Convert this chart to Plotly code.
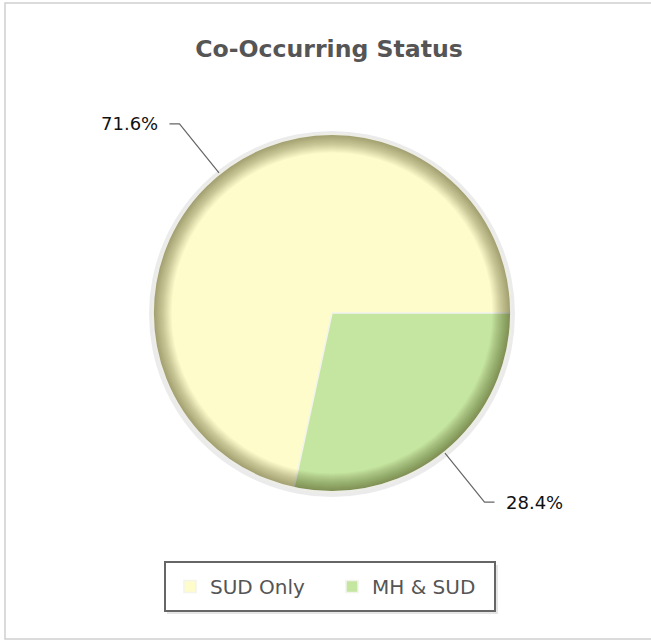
import math
import plotly.graph_objects as go

# ---- data ----
categories = ["SUD Only", "MH & SUD"]
values = [71.6, 28.4]
slice_colors = ["#FFFCCC", "#C5E6A0"]
title_text = "Co-Occurring Status"

# ---- geometry / style ----
W, H = 651, 641
CX, CY, R = 332, 313, 179
FONT = "DejaVu Sans, Verdana, sans-serif"


def px(x):
    return x / W


def py(y):
    return 1 - y / H


def dom(r):
    return dict(x=[px(CX - r), px(CX + r)], y=[py(CY + r), py(CY - r)])


total = sum(values)
# first slice spans clockwise from the rotation angle; end it at 3 o'clock
rotation = 90 + 360.0 * (total - values[0]) / total

fig = go.Figure()

# base pie
fig.add_trace(go.Pie(
    labels=categories, values=values, sort=False,
    direction="clockwise", rotation=rotation,
    marker=dict(colors=slice_colors, line=dict(color="#F4F4EC", width=1.5)),
    textinfo="none", hoverinfo="label+percent", domain=dom(R),
))

# inner rim shading (stacked translucent rings)
N_RINGS = 26
for i in range(N_RINGS):
    h = 0.895 + (0.99 - 0.895) * i / (N_RINGS - 1)
    fig.add_trace(go.Pie(
        labels=[f"rim{i}"], values=[1], hole=h, sort=False,
        marker=dict(colors=["rgba(40,40,0,0.018)"], line=dict(width=0)),
        textinfo="none", hoverinfo="skip", showlegend=False, domain=dom(R),
    ))

shapes = []
# drop shadow + outer rim line
shapes.append(dict(type="circle", xref="paper", yref="paper", layer="below",
                   x0=px(CX - R - 4), x1=px(CX + R + 4), y0=py(CY + R + 5), y1=py(CY - R - 3),
                   fillcolor="rgba(0,0,0,0.08)", line=dict(width=0)))
shapes.append(dict(type="circle", xref="paper", yref="paper", layer="above",
                   x0=px(CX - R), x1=px(CX + R), y0=py(CY + R), y1=py(CY - R),
                   line=dict(color="#EDEDE6", width=1.8)))
# outer frame
shapes.append(dict(type="rect", xref="paper", yref="paper", layer="below",
                   x0=px(5), x1=px(660), y0=py(639), y1=py(3),
                   line=dict(color="#CFCFCF", width=1.5)))
# legend box (shadow + border)
shapes.append(dict(type="rect", xref="paper", yref="paper", layer="below",
                   x0=px(167), x1=px(498), y0=py(614), y1=py(565),
                   fillcolor="rgba(0,0,0,0.10)", line=dict(width=0)))
shapes.append(dict(type="rect", xref="paper", yref="paper", layer="below",
                   x0=px(165), x1=px(495), y0=py(611), y1=py(562),
                   fillcolor="white", line=dict(color="#666666", width=2)))

# leader lines and labels computed from data (slices run counterclockwise from 3 o'clock)
annotations = []
start = 0.0
for v in values:
    span = 360.0 * v / total
    mid = math.radians(start + span / 2)
    start += span
    c, s = math.cos(mid), math.sin(mid)
    x0, y0 = CX + (R + 1) * c, CY - (R + 1) * s
    x1, y1 = CX + (R + 64) * c, CY - (R + 64) * s
    sign = 1 if c >= 0 else -1
    x2 = x1 + sign * 10
    shapes.append(dict(type="path", xref="paper", yref="paper",
                       path=f"M {px(x0)},{py(y0)} L {px(x1)},{py(y1)} L {px(x2)},{py(y1)}",
                       line=dict(color="#666666", width=1.2)))
    annotations.append(dict(xref="paper", yref="paper", x=px(x2 + sign * 9), y=py(y1),
                            xanchor="left" if sign > 0 else "right", yanchor="middle",
                            text=f"{v:.1f}%", showarrow=False,
                            font=dict(family=FONT, size=18, color="#111111")))

fig.update_layout(
    width=W, height=H,
    margin=dict(l=0, r=0, t=0, b=0),
    paper_bgcolor="white", plot_bgcolor="white",
    title=dict(text=f"<b>{title_text}</b>", x=px(329), xanchor="center",
               y=py(49), yanchor="middle",
               font=dict(family=FONT, size=23.6, color="#555555")),
    legend=dict(orientation="h", x=px(170), xanchor="left", y=py(586.5), yanchor="middle",
                bgcolor="rgba(0,0,0,0)", borderwidth=0,
                font=dict(family=FONT, size=20, color="#555555"),
                entrywidth=117, entrywidthmode="pixels"),
    shapes=shapes,
    annotations=annotations,
)

fig.write_html("out.html", config={"displayModeBar": False},
               post_script="document.body.style.margin='0';")
